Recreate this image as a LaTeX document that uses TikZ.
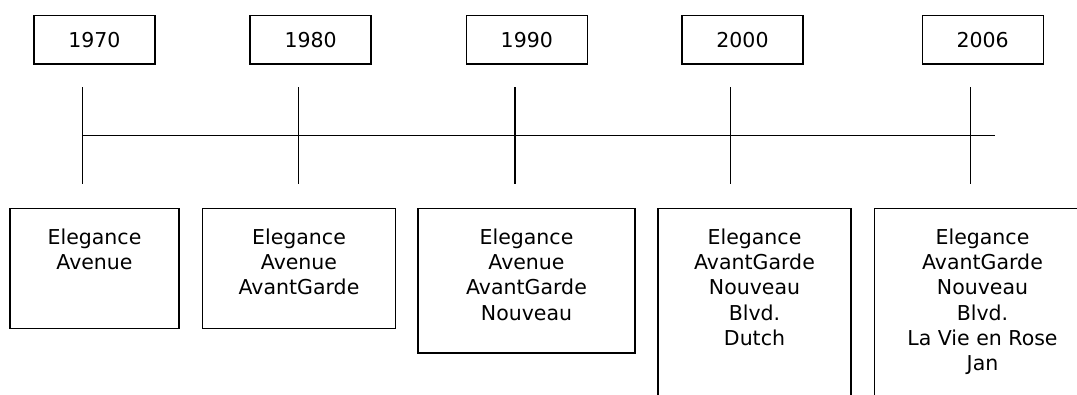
\documentclass[tikz,border=0pt]{standalone}
\usepackage{fontspec}
\setmainfont{DejaVu Sans}
\usetikzlibrary{positioning}

\tikzset{
  yearbox/.style={draw, minimum width=121pt, minimum height=48.3pt, inner sep=0pt},
  itembox/.style={draw, inner sep=0pt, anchor=north},
  itemtext/.style={align=center, inner sep=0pt},
}

\begin{document}
\begin{tikzpicture}[x=1pt,y=-1pt,line width=1.4pt,font=\fontsize{20.5}{25.3}\selectfont]
	\useasboundingbox (0,0) rectangle (1077,394);
	\clip (0,0) rectangle (1077,394);
	% year labels and ticks
	\foreach \yr/\x in {1970/82.4,1980/298.6,1990/514.8,2000/730.5,2006/970.7}{
		\node[yearbox] (y\yr) at (\x+12,39.9) {\yr};
		\coordinate (t\yr) at (\x,87);
		\coordinate (b\yr) at (\x,184);
		\draw (t\yr) -- (b\yr);
	}
	\coordinate (lineend) at (995.3,135.7);
	\draw (t1970 |- lineend) -- (lineend);
	% font lists under each year
	\foreach \yr/\x/\w/\h/\names in {1970/94.5/169/120/{Elegance\\Avenue},
			1980/299/192.5/120/{Elegance\\Avenue\\AvantGarde},
			1990/526.5/217/144.6/{Elegance\\Avenue\\AvantGarde\\Nouveau},
			2000/754.5/193/230/{Elegance\\AvantGarde\\Nouveau\\Blvd.\\Dutch},
			2006/982.5/216/230/{Elegance\\AvantGarde\\Nouveau\\Blvd.\\La Vie en Rose\\Jan}}{
		\node[itembox, minimum width=\w pt, minimum height=\h pt] (box\yr) at (\x,207.7) {};
		\node[itemtext, below=20.3pt of box\yr.north] (txt\yr) {\names};
	}
\end{tikzpicture}
\end{document}
